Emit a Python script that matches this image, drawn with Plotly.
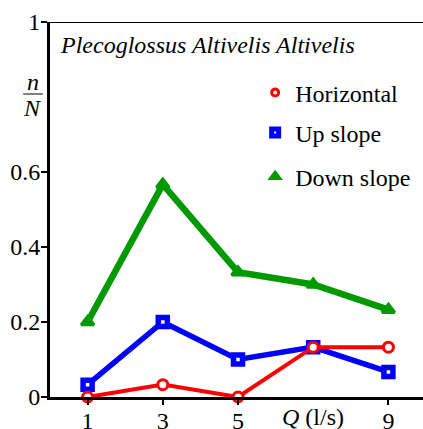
import plotly.graph_objects as go

Q = [1, 3, 5, 7, 9]
horizontal = [0.0, 0.033, 0.0, 0.133, 0.133]
up_slope = [0.033, 0.2, 0.1, 0.133, 0.067]
down_slope = [0.2, 0.567, 0.333, 0.3, 0.233]
x_tickvals = [1, 3, 5, 9]
y_tickvals = [0, 0.2, 0.4, 0.6, 1]
y_ticktext = ["0", "0.2", "0.4", "0.6", "1"]
series_names = ["Horizontal", "Up slope", "Down slope"]

FONT = "Liberation Serif, Times New Roman, serif"
FS = 24
fig = go.Figure()

fig.add_trace(go.Scatter(x=Q, y=down_slope, mode="lines+markers", showlegend=False,
                         line=dict(color="#009900", width=6.5),
                         marker=dict(symbol="triangle-up", size=11, color="#009900",
                                     line=dict(color="#009900", width=3)),
                         cliponaxis=False))
fig.add_trace(go.Scatter(x=Q, y=up_slope, mode="lines+markers", showlegend=False,
                         line=dict(color="#0000ff", width=5.5),
                         marker=dict(symbol="square", size=9, color="white",
                                     line=dict(color="#0000ff", width=5.5)),
                         cliponaxis=False))
fig.add_trace(go.Scatter(x=Q, y=horizontal, mode="lines+markers", showlegend=False,
                         line=dict(color="#ff0000", width=4),
                         marker=dict(symbol="circle", size=10, color="white",
                                     line=dict(color="#ff0000", width=3)),
                         cliponaxis=False))

# legend-only traces (markers only), each in its own legend box for spacing
fig.add_trace(go.Scatter(x=[None], y=[None], mode="markers", name=series_names[0],
                         legend="legend",
                         marker=dict(symbol="circle", size=7, color="white",
                                     line=dict(color="#ff0000", width=3))))
fig.add_trace(go.Scatter(x=[None], y=[None], mode="markers", name=series_names[1],
                         legend="legend2",
                         marker=dict(symbol="square", size=7, color="white",
                                     line=dict(color="#0000ff", width=5))))
fig.add_trace(go.Scatter(x=[None], y=[None], mode="markers", name=series_names[2],
                         legend="legend3",
                         marker=dict(symbol="triangle-up", size=10, color="#009900",
                                     line=dict(color="#009900", width=2))))

leg_common = dict(x=0.55, xanchor="left", yanchor="middle", bgcolor="rgba(0,0,0,0)",
                  font=dict(family=FONT, size=FS, color="black"), itemwidth=30)

fig.update_layout(
    width=423, height=429,
    margin=dict(l=50, r=0, t=22, b=32),
    paper_bgcolor="white", plot_bgcolor="white",
    font=dict(family=FONT, size=FS, color="black"),
    showlegend=True,
    legend=dict(y=0.811, **leg_common),
    legend2=dict(y=0.704, **leg_common),
    legend3=dict(y=0.587, **leg_common),
    xaxis=dict(range=[0, 9.92], tickvals=x_tickvals, ticks="outside", ticklen=5,
               tickwidth=2, tickcolor="black", showline=True, linecolor="black",
               linewidth=3, showgrid=False, zeroline=False, automargin=False,
               ticklabelstandoff=-5,
               tickfont=dict(family=FONT, size=FS)),
    yaxis=dict(range=[0, 1], tickvals=y_tickvals, ticktext=y_ticktext,
               ticks="outside", ticklen=6, tickwidth=2, tickcolor="black",
               showline=True, linecolor="black", linewidth=3, showgrid=False,
               zeroline=False, automargin=False, ticklabelstandoff=-4,
               tickfont=dict(family=FONT, size=FS)),
)

# top border line
fig.add_shape(type="line", xref="paper", yref="y", x0=0, x1=1, y0=1, y1=1,
              line=dict(color="black", width=2))

# title text inside plot
fig.add_annotation(text="<i>Plecoglossus Altivelis Altivelis</i>", xref="paper", yref="paper",
                   x=0.022, y=0.94, xanchor="left", yanchor="middle", showarrow=False,
                   font=dict(family=FONT, size=FS))

# y label fraction n/N
fig.add_annotation(text="<i>n</i>", xref="paper", yref="paper", x=-0.046, y=0.84,
                   xanchor="center", yanchor="middle", showarrow=False,
                   font=dict(family=FONT, size=FS))
fig.add_shape(type="line", xref="paper", yref="paper", x0=-0.072, x1=-0.019, y0=0.808, y1=0.808,
              line=dict(color="black", width=1))
fig.add_annotation(text="<i>N</i>", xref="paper", yref="paper", x=-0.046, y=0.77,
                   xanchor="center", yanchor="middle", showarrow=False,
                   font=dict(family=FONT, size=FS))

# x label at Q=7 position
fig.add_annotation(text="<i>Q</i> (l/s)", xref="x", yref="paper", x=7, y=0,
                   xanchor="center", yanchor="top", yshift=-5, showarrow=False,
                   font=dict(family=FONT, size=FS))

fig.write_html("out.html", config={"displayModeBar": False},
               post_script="document.body.style.margin='0px';")
